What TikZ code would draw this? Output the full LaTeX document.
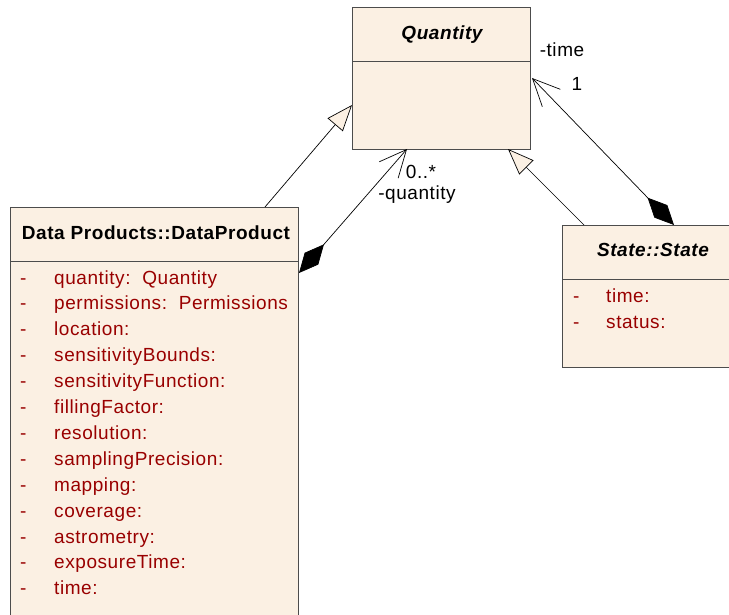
\documentclass[tikz,border=0pt]{standalone}
\usepackage{fontspec}
\setmainfont{Liberation Sans}[LetterSpace=3]
\usetikzlibrary{arrows.meta,calc}
\definecolor{classfill}{HTML}{FBF0E3}
\definecolor{attrred}{HTML}{990000}
\tikzstyle{classbox}=[draw=black!70,fill=classfill,line width=0.9pt,inner sep=0pt,outer sep=0pt,anchor=north west]
\tikzstyle{divider}=[draw=black!70,line width=0.9pt]
\tikzstyle{classname}=[font=\fontsize{19}{22}\selectfont\bfseries,anchor=base,inner sep=0pt]
\tikzstyle{attr}=[font=\fontsize{19}{22}\selectfont,text=attrred,anchor=base west,inner sep=0pt]
\tikzstyle{role}=[font=\fontsize{19}{22}\selectfont,inner sep=0pt]
\tikzstyle{generalize}=[draw,line width=0.7pt,-{Triangle[length=26pt,width=20pt,fill=classfill]}]
\tikzstyle{compose}=[draw,line width=0.7pt,{Diamond[length=38pt,width=18pt,fill=black]}-{Straight Barb[length=27pt,width=25pt]}]

\begin{document}
\begin{tikzpicture}[x=1pt,y=-1pt]
    \useasboundingbox (0,0) rectangle (729,615);
    % classes
    \node[classbox,minimum width=178pt,minimum height=142pt] (quantity) at (352,7) {};
    \node[classbox,minimum width=288pt,minimum height=420pt] (dataproduct) at (10,207) {};
    \node[classbox,minimum width=182pt,minimum height=142pt] (state) at (562,225) {};
    \foreach \cls/\w in {quantity/178, dataproduct/288, state/182}
        \path[divider] (\cls.north west) ++(0,54) -- ++(\w,0);
    % names
    \node[classname] (quantity-name) at (442,40) {\itshape Quantity};
    \node[classname] (dataproduct-name) at (156,240) {Data Products::DataProduct};
    \node[classname] (state-name) at (653,257) {\itshape State::State};
    % attributes
    \foreach \attr [count=\i from 0] in {quantity:\ \ Quantity, permissions:\ \ Permissions, location:, sensitivityBounds:, sensitivityFunction:, fillingFactor:, resolution:, samplingPrecision:, mapping:, coverage:, astrometry:, exposureTime:, time:}
    {
        \node[attr] (dp-dash-\i) at (20,284+25.9*\i) {-};
        \node[attr] (dp-attr-\i) at (54,284+25.9*\i) {\attr};
    }
    \foreach \attr [count=\i from 0] in {time:, status:}
    {
        \node[attr] (st-dash-\i) at (573,302+26*\i) {-};
        \node[attr] (st-attr-\i) at (606,302+26*\i) {\attr};
    }
    % relations
    \path[generalize] ($(dataproduct.north west)+(255,0)$) -- ($(quantity.north west)+(0,98)$);
    \path[generalize] ($(state.north west)+(22,0)$) -- ($(quantity.south west)+(156,0)$);
    \path[compose] ($(dataproduct.north east)+(1,66)$) -- ($(quantity.south west)+(55,0)$);
    \path[compose] ($(state.north west)+(112,0)$) -- ($(quantity.north east)+(2,71)$);
    % roles
    \node[role] (time-role) at (562,50) {-time};
    \node[role] (time-mult) at (577,84) {1};
    \node[role] (quantity-mult) at (421,172) {0..*};
    \node[role] (quantity-role) at (417,195) {-quantity};
\end{tikzpicture}
\end{document}
